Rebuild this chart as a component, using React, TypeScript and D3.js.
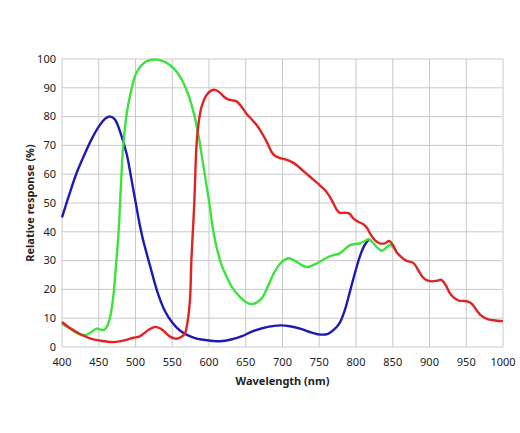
import React, { useEffect, useRef } from "react";
import * as d3 from "d3";

// wavelength (nm) / relative response (%)
const blueNm = [400, 410, 420, 430, 440, 450, 460, 466, 472, 480, 488, 495, 500, 505, 510, 520, 530, 540, 550, 560, 570, 580, 590, 605, 615, 630, 645, 660, 680, 697, 710, 725, 740, 752, 762, 770, 778, 785, 792, 800, 806, 812, 818, 820];
const blueVal = [45, 53, 60.5, 66.5, 72, 76.5, 79.5, 80, 79, 74, 67, 57.5, 50.5, 43.5, 37.5, 28, 19, 12.5, 8.5, 5.8, 4.2, 3.2, 2.6, 2.1, 2, 2.6, 3.8, 5.5, 7, 7.5, 7.2, 6.3, 5, 4.3, 4.6, 6, 8.5, 13, 19.5, 27, 32, 35.5, 37.2, 37];

const greenNm = [400, 410, 420, 430, 440, 447, 452, 457, 462, 466, 470, 474, 477, 480, 483, 487, 490, 495, 500, 507, 515, 529, 540, 551, 562, 572, 580, 586, 592, 597, 601, 605, 610, 617, 624, 632, 642, 650, 658, 665, 672, 680, 688, 697, 708, 719, 728, 735, 743, 751, 760, 769, 778, 785, 792, 805, 812, 817, 822, 828, 835, 841, 846, 850, 855];
const greenVal = [8, 6.5, 4.8, 4, 5.2, 6.4, 6.1, 5.9, 7.5, 11, 18, 30, 40, 55, 69, 79, 84, 90, 94.5, 97.5, 99.2, 99.8, 99, 97, 93.3, 87.5, 80.5, 73, 63.5, 55.5, 49, 41.5, 35, 28.5, 24.4, 20.5, 17.4, 15.6, 14.9, 15.5, 17, 21, 25.5, 29, 30.8, 29.6, 28.2, 27.8, 28.6, 29.6, 31, 31.9, 32.5, 34, 35.4, 36, 36.8, 37.4, 36.5, 34.8, 33.4, 34.5, 35.4, 34.8, 33.4];

const redNm = [400, 412, 424, 438, 452, 470, 485, 497, 505, 511, 518, 527, 534, 540, 547, 554, 560, 567, 570, 574, 576, 578, 580, 583, 586, 590, 597, 603, 608, 614, 620, 626, 633, 638, 645, 651, 659, 667, 673, 679, 685, 690, 698, 706, 713, 719, 728, 737, 748, 758, 764, 769, 774, 778, 785, 791, 797, 803, 810, 815, 820, 826, 832, 839, 845, 850, 855, 860, 868, 878, 884, 890, 896, 903, 910, 916, 922, 927, 932, 940, 946, 953, 958, 964, 970, 978, 987, 1000];
const redVal = [8.7, 6.4, 4.6, 3, 2.2, 1.7, 2.3, 3.2, 3.6, 4.6, 6, 7, 6.4, 5.2, 3.6, 2.9, 3.2, 4.6, 7.5, 16, 30, 40, 50, 70, 78, 83.5, 87.6, 89, 89.3, 88.5, 87, 86, 85.6, 85.2, 83.2, 81, 78.8, 76.3, 73.8, 71, 67.8, 66.3, 65.5, 65, 64.2, 63.2, 61.2, 59.2, 56.8, 54.4, 52.3, 50, 47.6, 46.6, 46.6, 46.3, 44.5, 43.5, 42.6, 41.3, 39, 37, 36, 36, 36.8, 35.5, 33, 31.6, 30, 29.2, 27, 24.5, 23.2, 22.8, 23, 23.3, 21.5, 19, 17.4, 16.1, 16, 15.7, 14.9, 12.8, 11, 9.8, 9.3, 9];

const xTicks = d3.range(400, 1001, 50);
const yTicks = d3.range(0, 101, 10);

export default function App() {
  const ref = useRef<HTMLDivElement>(null);

  useEffect(() => {
    const width = 520;
    const height = 433;
    const margin = { top: 59, right: 17, bottom: 86, left: 62 };

    d3.select(ref.current).select("svg").remove();

    const svg = d3
      .select(ref.current)
      .append("svg")
      .attr("width", width)
      .attr("height", height)
      .style("position", "absolute")
      .style("left", "0px")
      .style("top", "0px")
      .style("font-family", "'Noto Sans', sans-serif");

    const x = d3.scaleLinear().domain([400, 1000]).range([margin.left, width - margin.right]);
    const y = d3.scaleLinear().domain([0, 100]).range([height - margin.bottom, margin.top]);

    // grid
    svg
      .append("g")
      .selectAll("line")
      .data(xTicks)
      .enter()
      .append("line")
      .attr("x1", (d) => x(d))
      .attr("x2", (d) => x(d))
      .attr("y1", y(0))
      .attr("y2", y(100))
      .attr("stroke", "#c9c9c9")
      .attr("stroke-width", 1);

    svg
      .append("g")
      .selectAll("line")
      .data(yTicks)
      .enter()
      .append("line")
      .attr("x1", x(400))
      .attr("x2", x(1000))
      .attr("y1", (d) => y(d))
      .attr("y2", (d) => y(d))
      .attr("stroke", "#c9c9c9")
      .attr("stroke-width", 1);

    // tick labels
    svg
      .append("g")
      .selectAll("text")
      .data(yTicks)
      .enter()
      .append("text")
      .attr("x", x(400) - 6)
      .attr("y", (d) => y(d))
      .attr("dy", "0.35em")
      .attr("text-anchor", "end")
      .style("font-size", "11px")
      .attr("fill", "#222")
      .text((d) => d);

    svg
      .append("g")
      .selectAll("text")
      .data(xTicks)
      .enter()
      .append("text")
      .attr("x", (d) => x(d))
      .attr("y", y(0) + 19)
      .attr("text-anchor", "middle")
      .style("font-size", "11px")
      .attr("fill", "#222")
      .text((d) => d);

    // axis titles
    svg
      .append("text")
      .attr("x", (x(400) + x(1000)) / 2)
      .attr("y", y(0) + 38)
      .attr("text-anchor", "middle")
      .style("font-size", "11px")
      .style("font-weight", "bold")
      .attr("fill", "#222")
      .text("Wavelength (nm)");

    svg
      .append("text")
      .attr("transform", `translate(34, ${(y(0) + y(100)) / 2}) rotate(-90)`)
      .attr("text-anchor", "middle")
      .style("font-size", "11px")
      .style("font-weight", "bold")
      .attr("fill", "#222")
      .text("Relative response (%)");

    const line = d3
      .line<[number, number]>()
      .x((d) => x(d[0]))
      .y((d) => y(d[1]))
      .curve(d3.curveCatmullRom.alpha(0.5));

    const series = [
      { nm: blueNm, val: blueVal, color: "#1c1cb4" },
      { nm: greenNm, val: greenVal, color: "#3ee23e" },
      { nm: redNm, val: redVal, color: "#e02424" },
    ];

    series.forEach((s) => {
      const pts = s.nm.map((n, i) => [n, s.val[i]] as [number, number]);
      svg
        .append("path")
        .attr("d", line(pts))
        .attr("fill", "none")
        .attr("stroke", s.color)
        .attr("stroke-width", 2.4)
        .attr("stroke-linejoin", "round");
    });
  }, []);

  return <div ref={ref}></div>;
}
